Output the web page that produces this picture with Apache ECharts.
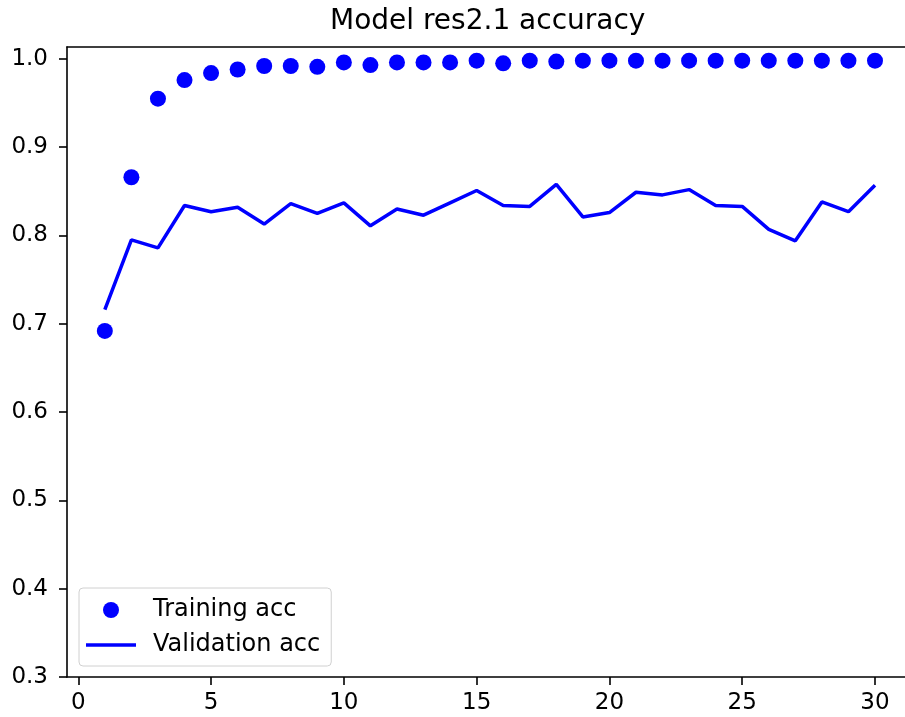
<!DOCTYPE html>
<html>
<head>
<meta charset="utf-8">
<script src="https://cdn.jsdelivr.net/npm/echarts@6/dist/echarts.min.js"></script>
<style>
  html, body { margin: 0; padding: 0; background: #fff; }
  #chart { width: 905px; height: 717px; }
</style>
</head>
<body>
<div id="chart"></div>
<script>
// epochs 1..30
var epochs = [1,2,3,4,5,6,7,8,9,10,11,12,13,14,15,16,17,18,19,20,21,22,23,24,25,26,27,28,29,30];
var trainAcc = [0.692, 0.866, 0.955, 0.976, 0.984, 0.988, 0.992, 0.992, 0.991, 0.996,
                0.993, 0.996, 0.996, 0.996, 0.998, 0.995, 0.998, 0.997, 0.998, 0.998,
                0.998, 0.998, 0.998, 0.998, 0.998, 0.998, 0.998, 0.998, 0.998, 0.998];
var valAcc = [0.716, 0.795, 0.786, 0.834, 0.827, 0.832, 0.813, 0.836, 0.825, 0.837,
              0.811, 0.830, 0.823, 0.837, 0.851, 0.834, 0.833, 0.858, 0.821, 0.826,
              0.849, 0.846, 0.852, 0.834, 0.833, 0.807, 0.794, 0.838, 0.827, 0.857];
var xTicks = [0, 5, 10, 15, 20, 25, 30];
var yTicks = [0.3, 0.4, 0.5, 0.6, 0.7, 0.8, 0.9, 1.0];

var pairs = function (ys) {
    return epochs.map(function (e, i) { return [e, ys[i]]; });
};

var font = 'DejaVu Sans';
var spine = { color: '#000', width: 1.6 };
var myChart = echarts.init(document.getElementById('chart'));

myChart.setOption({
    animation: false,
    title: {
        text: 'Model res2.1 accuracy',
        left: 330,
        top: 8,
        padding: 0,
        textStyle: { fontFamily: font, fontSize: 28, fontWeight: 'normal', color: '#000' }
    },
    legend: {
        orient: 'vertical',
        left: 79,
        top: 588,
        padding: [10, 11, 9, 7],
        itemGap: 11,
        itemWidth: 50,
        itemHeight: 16,
        borderColor: '#d0d0d0',
        borderWidth: 1,
        borderRadius: 4,
        backgroundColor: 'rgba(255,255,255,0.8)',
        textStyle: { fontFamily: font, fontSize: 24, lineHeight: 24, color: '#000', padding: [0, 0, 0, 12] },
        data: [
            { name: 'Training acc', icon: 'circle' },
            { name: 'Validation acc', icon: 'path://M0,0L50,0L50,3.5L0,3.5Z' }
        ]
    },
    grid: { left: 67, top: 47, right: 0, bottom: 40 },
    xAxis: [{
        type: 'value',
        min: -0.425,
        max: 31.13,
        splitLine: { show: false },
        axisLine: { show: true, onZero: false, lineStyle: spine },
        axisTick: { show: true, length: 8, lineStyle: spine, customValues: xTicks },
        axisLabel: { fontFamily: font, fontSize: 23, color: '#000', margin: 15, customValues: xTicks }
    }, {
        // top spine only
        type: 'value',
        position: 'top',
        min: -0.425,
        max: 31.13,
        splitLine: { show: false },
        axisLine: { show: true, onZero: false, lineStyle: spine },
        axisTick: { show: false },
        axisLabel: { show: false }
    }],
    yAxis: {
        type: 'value',
        min: 0.3,
        max: 1.0135,
        splitLine: { show: false },
        axisLine: { show: true, onZero: false, lineStyle: spine },
        axisTick: { show: true, length: 8, lineStyle: spine, customValues: yTicks },
        axisLabel: {
            fontFamily: font, fontSize: 23, color: '#000', margin: 19, customValues: yTicks,
            formatter: function (v) { return v.toFixed(1); }
        }
    },
    series: [
        {
            name: 'Training acc',
            type: 'scatter',
            data: pairs(trainAcc),
            symbol: 'circle',
            symbolSize: 16,
            itemStyle: { color: '#0000ff', opacity: 1 }
        },
        {
            name: 'Validation acc',
            type: 'line',
            data: pairs(valAcc),
            symbol: 'none',
            lineStyle: { color: '#0000ff', width: 3.5 },
            itemStyle: { color: '#0000ff' }
        }
    ]
});
</script>
</body>
</html>
